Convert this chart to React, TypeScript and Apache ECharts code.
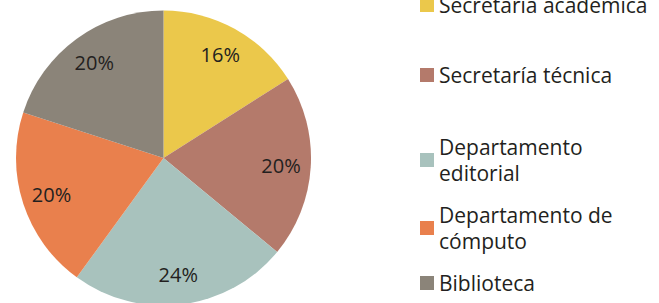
import React, { useEffect, useRef } from "react";
import * as echarts from "echarts";

const categories = [
  "Secretaría académica",
  "Secretaría técnica",
  "Departamento editorial",
  "Departamento de cómputo",
  "Biblioteca",
];
const legendLabels = [
  "Secretaría académica",
  "Secretaría técnica",
  "Departamento\neditorial",
  "Departamento de\ncómputo",
  "Biblioteca",
];
const values = [16, 20, 24, 20, 20];
const colors = ["#EBC84B", "#B47A6B", "#A8C2BD", "#E9804D", "#8B8479"];

const legendTops = [-8, 62, 121, 189, 270];
const twoLine = [false, false, true, true, false];

export default function App() {
  const ref = useRef<HTMLDivElement>(null);
  useEffect(() => {
    if (!ref.current) return;
    const chart = echarts.init(ref.current, undefined, { renderer: "svg" });
    const data = categories.map((name, i) => ({
      name,
      value: values[i],
      itemStyle: { color: colors[i] },
    }));
    const labelMap: Record<string, string> = {};
    categories.forEach((c, i) => (labelMap[c] = legendLabels[i]));
    const textColor = "#231F20";
    const font = "'Open Sans', 'Noto Sans', sans-serif";
    chart.setOption({
      animation: false,
      backgroundColor: "#ffffff",
      legend: categories.map((name, i) => ({
        orient: "vertical",
        left: 420,
        top: legendTops[i],
        itemWidth: 14,
        itemHeight: 14,
        icon: "rect",
        selectedMode: false,
        padding: 0,
        formatter: (n: string) => labelMap[n],
        textStyle: {
          fontFamily: font,
          fontSize: 21,
          color: textColor,
          lineHeight: 26,
          padding: twoLine[i] ? [26, 0, 0, 0] : 0,
        },
        data: [name],
      })),
      series: [
        {
          type: "pie",
          center: [163.5, 158],
          radius: [0, 147.5],
          startAngle: 90,
          clockwise: true,
          label: { show: false },
          labelLine: { show: false },
          itemStyle: { borderWidth: 0 },
          emphasis: { disabled: true },
          data,
        },
        {
          type: "pie",
          center: [163.5, 158],
          radius: [82, 147.5],
          startAngle: 90,
          clockwise: true,
          silent: true,
          legendHoverLink: false,
          itemStyle: { color: "rgba(0,0,0,0)", borderWidth: 0 },
          label: {
            show: true,
            position: "inside",
            formatter: "{c}%",
            fontFamily: font,
            fontSize: 20,
            color: textColor,
          },
          labelLine: { show: false },
          emphasis: { disabled: true },
          data: categories.map((name, i) => ({ name, value: values[i] })),
        },
      ],
    });
    return () => chart.dispose();
  }, []);
  return (
    <div
      ref={ref}
      style={{ position: "fixed", left: 0, top: 0, width: 659, height: 303 }}
    />
  );
}
